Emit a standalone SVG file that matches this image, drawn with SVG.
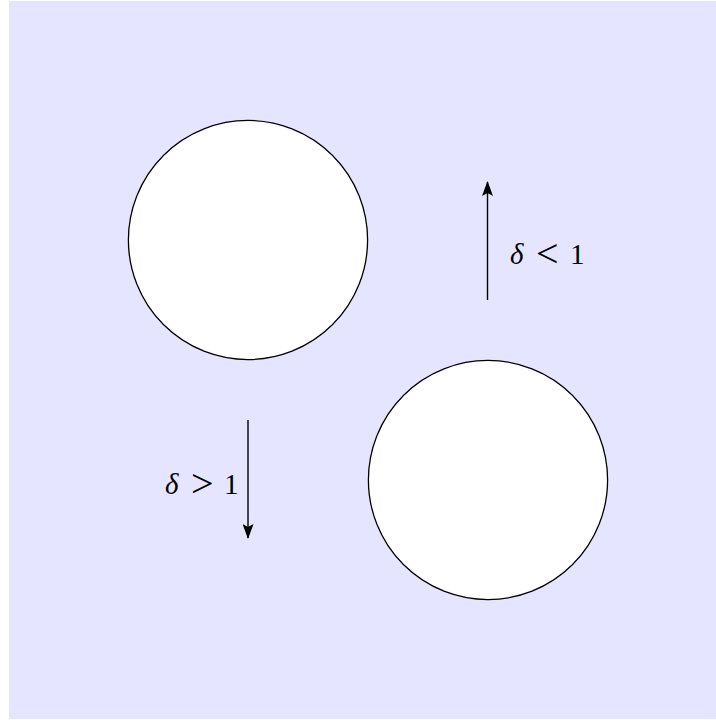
<svg xmlns="http://www.w3.org/2000/svg" width="716" height="720" viewBox="0 0 716 720">
<style>
.ball{fill:#ffffff;stroke:#000000;stroke-width:1.3}
.arr{stroke:#000000;stroke-width:1.4;fill:none}
.lbl{font-family:"Liberation Serif","DejaVu Serif",serif;font-size:29px;fill:#000000}
.it{font-style:italic}
.rel{font-size:40px}
</style>
<defs>
<marker id="ah" viewBox="0 0 15 11" refX="14" refY="5.5" markerWidth="15" markerHeight="11" markerUnits="userSpaceOnUse" orient="auto">
<path d="M0,0 L15,5.5 L0,11 L3,5.5 Z" fill="#000000"/>
</marker>
</defs>
<rect x="9" y="1" width="707" height="718" fill="#E5E5FF"/>
<g id="ball1"><circle class="ball" cx="248" cy="240" r="119.6"/></g>
<g id="ball2"><circle class="ball" cx="488" cy="480" r="119.6"/></g>
<g id="connectors">
<line class="arr" x1="487.5" y1="300" x2="487.5" y2="182" marker-end="url(#ah)"/>
<line class="arr" x1="248" y1="420" x2="248" y2="538" marker-end="url(#ah)"/>
</g>
<g id="label-up">
<text class="lbl" y="264"><tspan class="it" x="510">δ</tspan><tspan class="rel" x="536" y="267">&lt;</tspan><tspan x="570" y="264">1</tspan></text>
</g>
<g id="label-down">
<text class="lbl" y="494"><tspan class="it" x="165">δ</tspan><tspan class="rel" x="191" y="497">&gt;</tspan><tspan x="224" y="494">1</tspan></text>
</g>
</svg>
